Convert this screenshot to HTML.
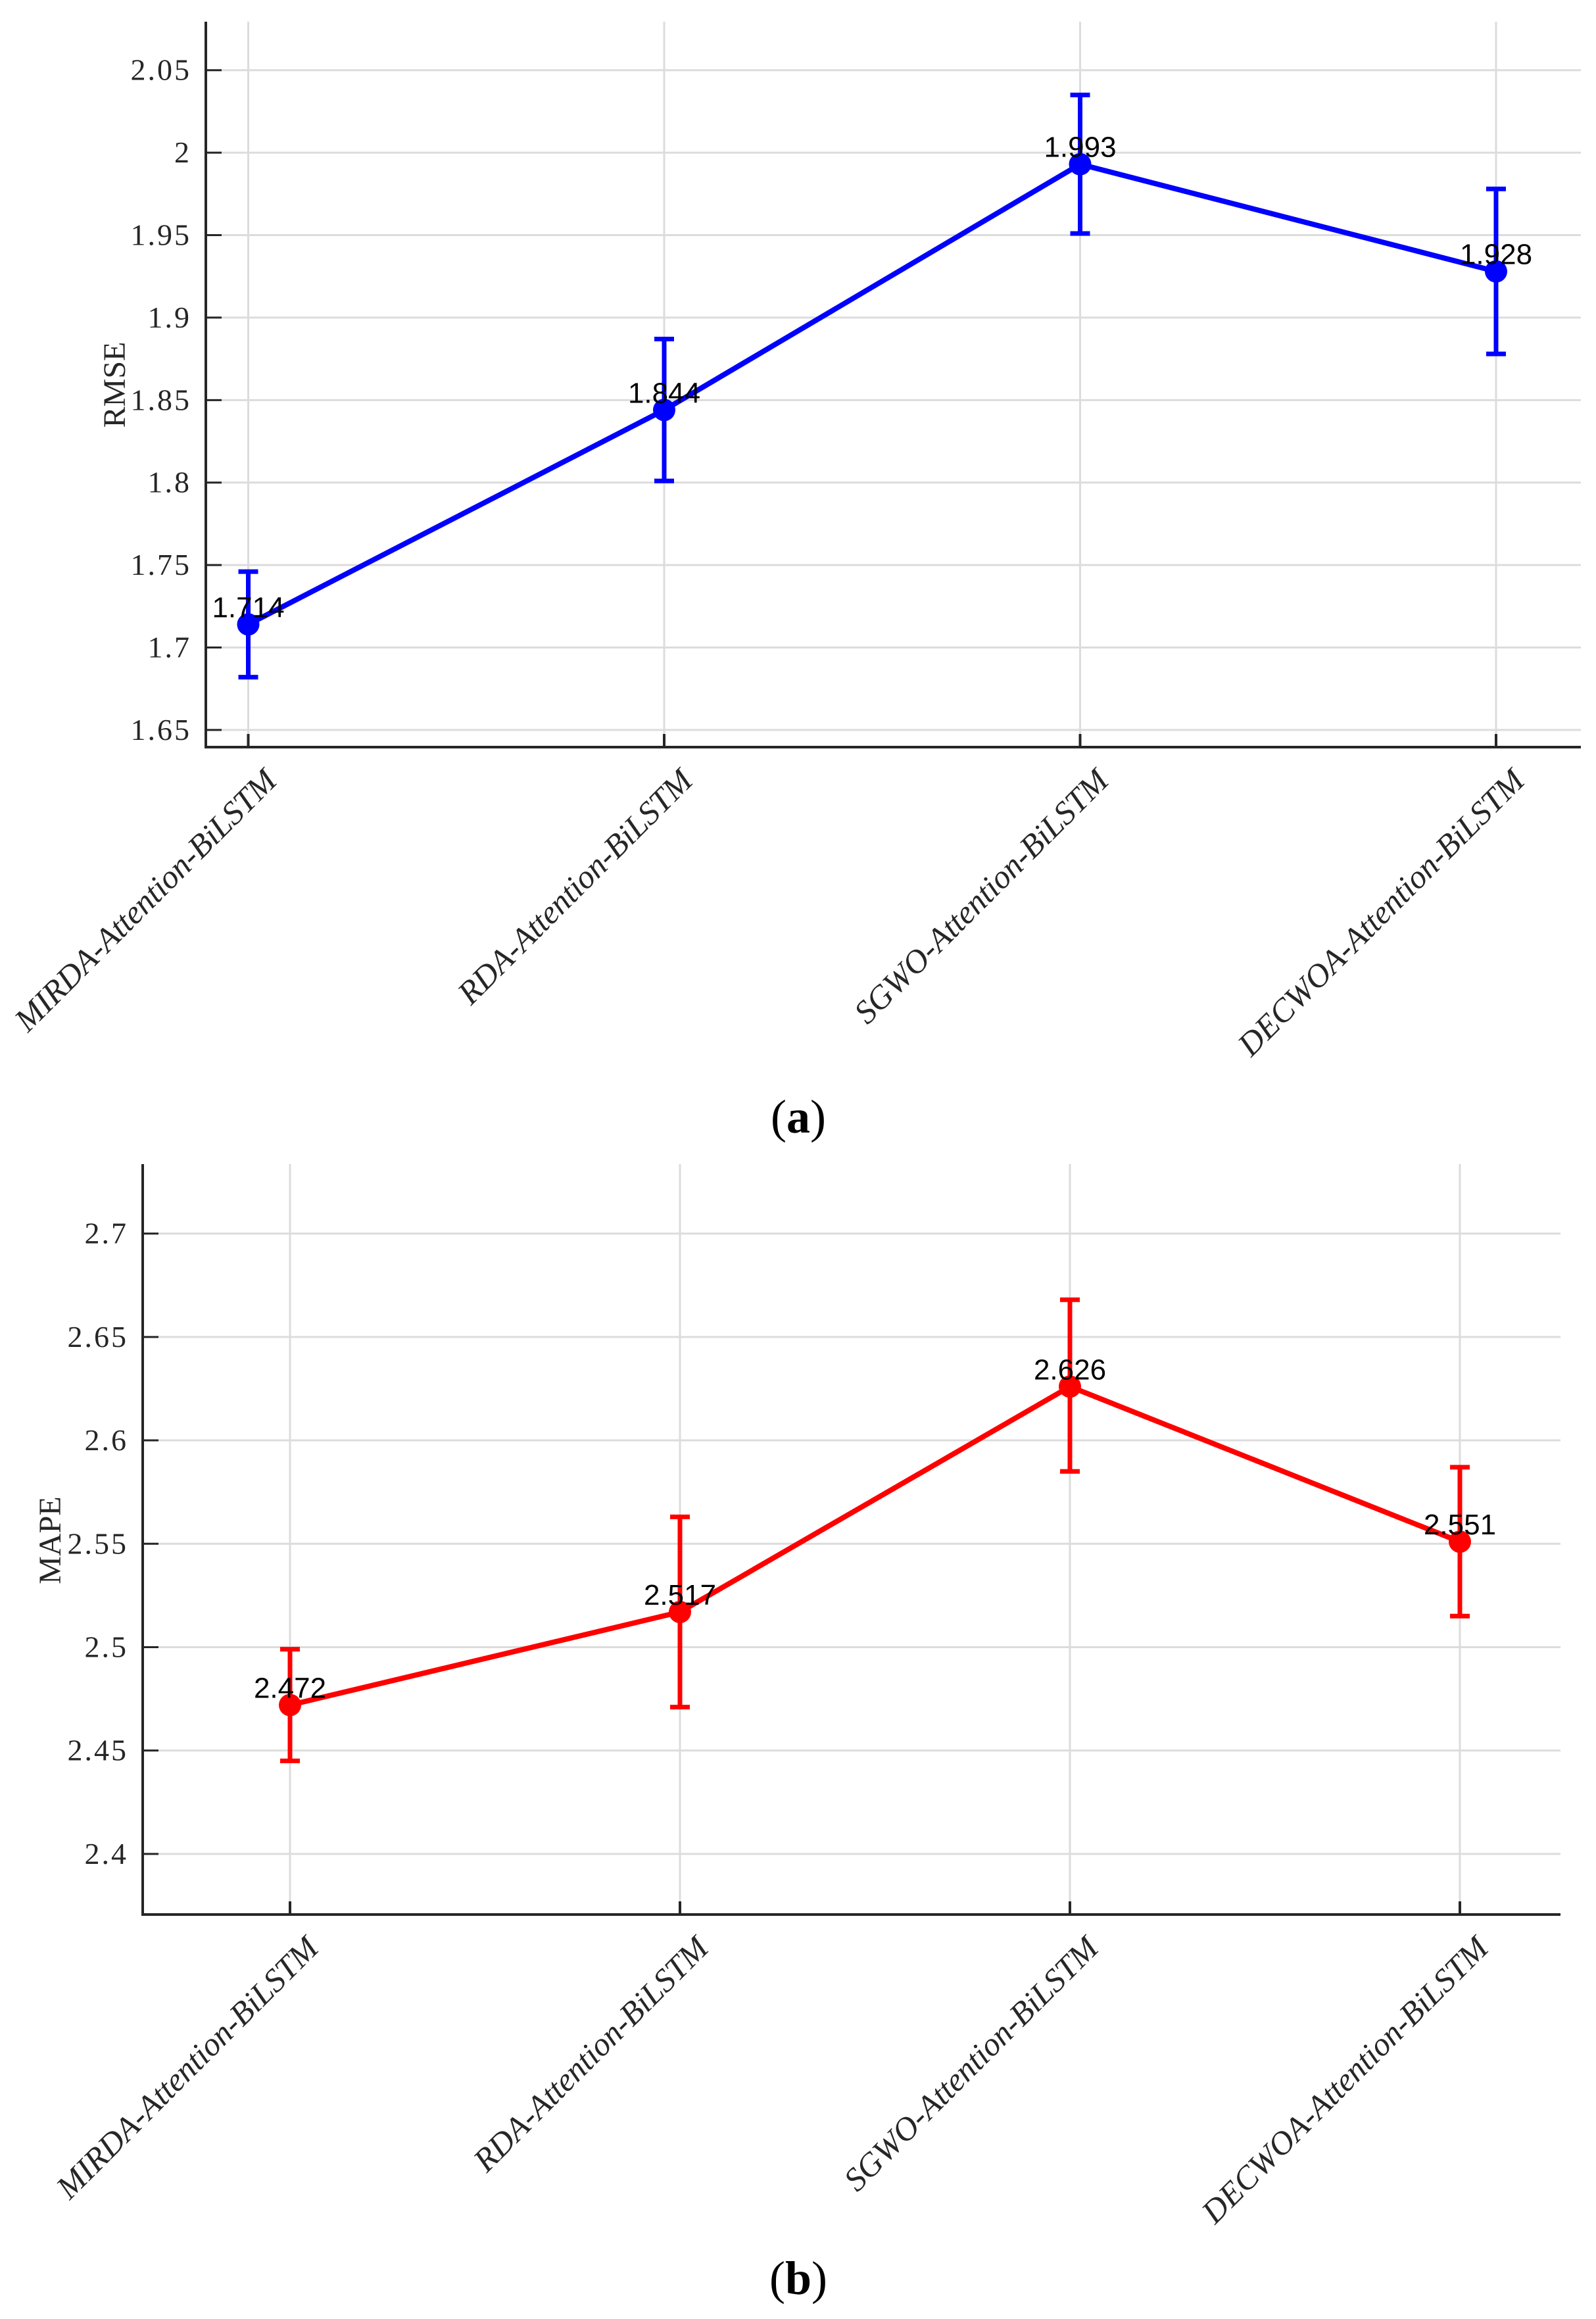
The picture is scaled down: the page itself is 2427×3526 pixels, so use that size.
<!DOCTYPE html>
<html><head><meta charset="utf-8"><style>html,body{margin:0;padding:0;background:#fff}svg{display:block}</style></head>
<body>
<svg id="fig" width="2427" height="3526" xmlns="http://www.w3.org/2000/svg">
<rect width="2427" height="3526" fill="#fff"/>
<g id="chartA"></g>
<g id="chartB"></g>
<text x="1214" y="1722" text-anchor="middle" font-family="Liberation Serif, serif" font-size="72" fill="#000">(<tspan font-weight="bold">a</tspan>)</text>
<text x="1214" y="3488" text-anchor="middle" font-family="Liberation Serif, serif" font-size="72" fill="#000">(<tspan font-weight="bold">b</tspan>)</text>
</svg>
<script>
const categories = ["MIRDA-Attention-BiLSTM","RDA-Attention-BiLSTM","SGWO-Attention-BiLSTM","DECWOA-Attention-BiLSTM"];
const rmseValues = [1.714, 1.844, 1.993, 1.928];
const rmseLow = [1.682, 1.801, 1.951, 1.878];
const rmseHigh = [1.746, 1.887, 2.035, 1.978];
const rmseTicks = [1.65, 1.7, 1.75, 1.8, 1.85, 1.9, 1.95, 2, 2.05];
const rmseLabels = ["1.714","1.844","1.993","1.928"];
const mapeValues = [2.472, 2.517, 2.626, 2.551];
const mapeLow = [2.445, 2.471, 2.585, 2.515];
const mapeHigh = [2.499, 2.563, 2.668, 2.587];
const mapeTicks = [2.4, 2.45, 2.5, 2.55, 2.6, 2.65, 2.7];
const mapeLabels = ["2.472","2.517","2.626","2.551"];

const NS = "http://www.w3.org/2000/svg";
function mk(parent, tag, attrs, text){
  const e = document.createElementNS(NS, tag);
  for (const k in attrs) e.setAttribute(k, attrs[k]);
  if (text !== undefined) e.textContent = text;
  parent.appendChild(e);
  return e;
}

function drawChart(g, cfg){
  const {left, right, top, bottom, vMin, vMax, x0, dx, color, ticks, vals, lo, hi, labels, title, titleX, titleY, prefix} = cfg;
  const ys = v => bottom - (v - vMin) / (vMax - vMin) * (bottom - top);
  const xs = i => x0 + i * dx;
  ticks.forEach(t => {
    const l = mk(g, 'line', {x1:left, x2:right, y1:ys(t), y2:ys(t), stroke:'#dcdcdc', 'stroke-width':3});
    
    
  });
  categories.forEach((c, i) => {
    const l = mk(g, 'line', {x1:xs(i), x2:xs(i), y1:top, y2:bottom, stroke:'#dcdcdc', 'stroke-width':3});
    
    
  });
  const ax = mk(g, 'line', {x1:left, x2:left, y1:top, y2:bottom+2, stroke:'#262626', 'stroke-width':4});
  
  
  const bx = mk(g, 'line', {x1:left-2, x2:right, y1:bottom, y2:bottom, stroke:'#262626', 'stroke-width':4});
  
  
  ticks.forEach(t => {
    const tk = mk(g, 'line', {x1:left, x2:left+24, y1:ys(t), y2:ys(t), stroke:'#262626', 'stroke-width':3});
    
    
    const tl = mk(g, 'text', {x:left-22, y:ys(t)+15, 'text-anchor':'end', 'font-family':'Liberation Serif, serif', 'font-size':46, fill:'#262626', 'letter-spacing':'3'}, String(t));
    
    
  });
  categories.forEach((c, i) => {
    const tk = mk(g, 'line', {x1:xs(i), x2:xs(i), y1:bottom, y2:bottom-20, stroke:'#262626', 'stroke-width':4});
    
    
    const ax0 = xs(i) + 46, ay0 = bottom + 54;
    const tl = mk(g, 'text', {x:ax0, y:ay0, 'text-anchor':'end', transform:`rotate(-45 ${ax0} ${ay0})`, 'font-family':'Liberation Serif, serif', 'font-size':50, 'font-style':'italic', fill:'#262626'}, c);
    
    
  });
  const tt = mk(g, 'text', {x:titleX, y:titleY, 'text-anchor':'middle', transform:`rotate(-90 ${titleX} ${titleY})`, 'font-family':'Liberation Serif, serif', 'font-size':48, fill:'#262626'}, title);
  
  
  const pts = vals.map((v, i) => `${xs(i)},${ys(v)}`).join(' ');
  const pl = mk(g, 'polyline', {points:pts, fill:'none', stroke:color, 'stroke-width':8});
  
  
  vals.forEach((v, i) => {
    const x = xs(i);
    const eb = mk(g, 'path', {d:`M${x},${ys(lo[i])}V${ys(hi[i])}M${x-15},${ys(lo[i])}H${x+15}M${x-15},${ys(hi[i])}H${x+15}`, stroke:color, 'stroke-width':7, fill:'none'});
    
    
    const c = mk(g, 'circle', {cx:x, cy:ys(v), r:17, fill:color});
    
    
    const lb = mk(g, 'text', {x:x, y:ys(v)-11, 'text-anchor':'middle', 'font-family':'Liberation Sans, sans-serif', 'font-size':44, fill:'#000'}, labels[i]);
    
    
  });
}

drawChart(document.getElementById('chartA'), {
  left:313, right:2404, top:33, bottom:1136, vMin:1.6396, vMax:2.0794,
  x0:377.5, dx:632.5, color:'#0000ff', ticks:rmseTicks, vals:rmseValues, lo:rmseLow, hi:rmseHigh,
  labels:rmseLabels, title:'RMSE', titleX:190, titleY:585, prefix:'rmse'
});
drawChart(document.getElementById('chartB'), {
  left:217, right:2373, top:1770, bottom:2911, vMin:2.3707, vMax:2.7336,
  x0:441, dx:593, color:'#ff0000', ticks:mapeTicks, vals:mapeValues, lo:mapeLow, hi:mapeHigh,
  labels:mapeLabels, title:'MAPE', titleX:92, titleY:2342, prefix:'mape'
});
</script>
</body></html>
